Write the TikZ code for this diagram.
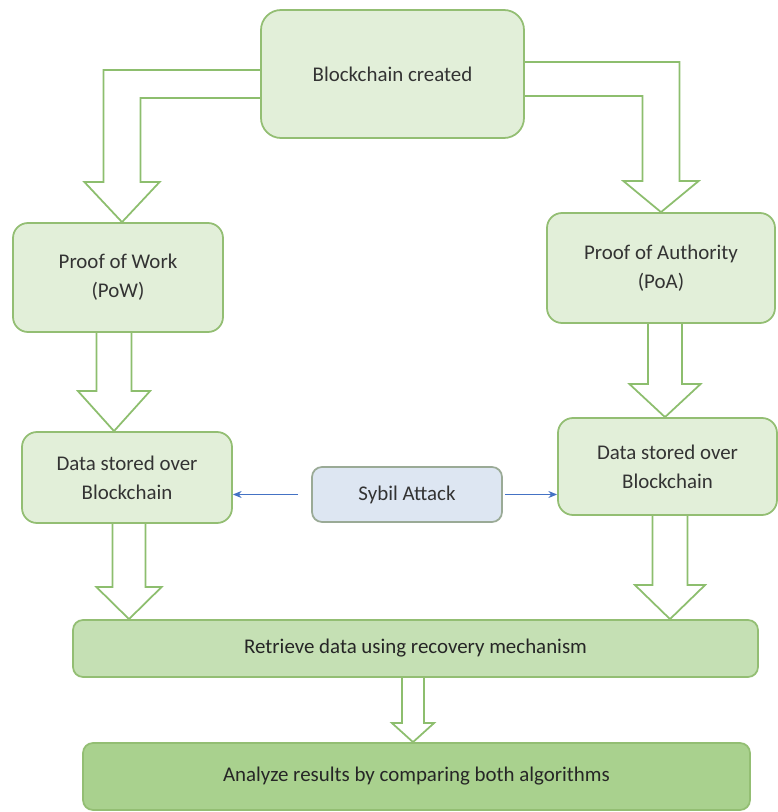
\documentclass[tikz,border=0pt]{standalone}
\usepackage{fontspec}
\setmainfont{Carlito}
\usepackage{tikz}
\usetikzlibrary{arrows.meta, positioning, calc, backgrounds}
\usepackage{xcolor}
\definecolor{boxfill}{HTML}{E2EFD9}
\definecolor{boxline}{HTML}{93BE73}
\definecolor{retfill}{HTML}{C5E0B4}
\definecolor{anfill}{HTML}{A9D18E}
\definecolor{sybfill}{HTML}{DDE6F2}
\definecolor{sybline}{HTML}{9AAA96}
\definecolor{arrgreen}{HTML}{8DBE6E}
\definecolor{atkblue}{HTML}{4472C4}
\definecolor{txtgray}{HTML}{333333}

\begin{document}
\begin{tikzpicture}[
  box/.style={draw=boxline, fill=boxfill, rounded corners=0.3cm, line width=1pt,
    align=center, inner sep=0pt, text=txtgray,
    font=\fontsize{11.9}{16.5}\selectfont},
  fat/.style args={#1/#2/#3}{draw=arrgreen, fill=white, line width=1pt,
    to path={let \p1=(\tikztostart), \p2=(\tikztotarget) in
      (\x1-#1,\y1) -- (\x1-#1,\y2+#3) -- (\x1-#2,\y2+#3) -- (\x1,\y2)
      -- (\x1+#2,\y2+#3) -- (\x1+#1,\y2+#3) -- (\x1+#1,\y1)}},
  bent/.style={draw=arrgreen, fill=white, line width=1pt},
  atk/.style={-{Stealth[length=5pt, width=4pt]}, draw=atkblue, line width=0.6pt}
]
  \useasboundingbox (0,0) rectangle (15.56,16.24);

  % Start
  \node[box, rounded corners=0.4cm, minimum width=5.26cm, minimum height=2.56cm]
    (bc) at (7.85, 14.76) {Blockchain created};

  % Consensus algorithms
  \node[box, minimum width=4.20cm, minimum height=2.18cm]
    (pow) at (2.36, 10.69) {Proof of Work\\(PoW)};
  \node[box, minimum width=4.56cm, minimum height=2.20cm]
    (poa) at (13.22, 10.88) {Proof of Authority\\(PoA)};

  % Storage
  \node[box, minimum width=4.20cm, minimum height=1.82cm]
    (dl) at (2.54, 6.69) {Data stored over\\Blockchain};
  \node[box, minimum width=4.38cm, minimum height=1.94cm]
    (dr) at (13.35, 6.91) {Data stored over\\Blockchain};

  % Attack
  \node[box, draw=sybline, fill=sybfill, rounded corners=0.2cm,
    minimum width=3.80cm, minimum height=1.10cm]
    (syb) at (8.14, 6.35) {Sybil Attack};

  % Recovery and analysis
  \node[box, fill=retfill, rounded corners=0.2cm, text=black!85,
    minimum width=13.70cm, minimum height=1.14cm]
    (ret) at (8.31, 3.27) {Retrieve data using recovery mechanism};
  \node[box, fill=anfill, rounded corners=0.2cm, text=black!85,
    minimum width=13.34cm, minimum height=1.34cm]
    (an) at (8.33, 0.71) {Analyze results by comparing both algorithms};

  % Block arrows
  \begin{scope}[on background layer]
    \draw[bent] let \p1=(bc.west), \p2=([xshift=0.08cm]pow.north) in
      (\x1,\y1+0.08cm) -- (\x2-0.37cm,\y1+0.08cm) -- (\x2-0.37cm,\y2+0.8cm)
      -- (\x2-0.75cm,\y2+0.8cm) -- (\p2) -- (\x2+0.75cm,\y2+0.8cm)
      -- (\x2+0.37cm,\y2+0.8cm) -- (\x2+0.37cm,\y1-0.48cm) -- (\x1,\y1-0.48cm);
    \draw[bent] let \p1=(bc.east), \p2=(poa.north) in
      (\x1,\y1+0.24cm) -- (\x2+0.37cm,\y1+0.24cm) -- (\x2+0.37cm,\y2+0.62cm)
      -- (\x2+0.75cm,\y2+0.62cm) -- (\p2) -- (\x2-0.75cm,\y2+0.62cm)
      -- (\x2-0.37cm,\y2+0.62cm) -- (\x2-0.37cm,\y1-0.44cm) -- (\x1,\y1-0.44cm);

    \draw[fat=0.35cm/0.72cm/0.8cm] ([xshift=-0.08cm]pow.south) to (dl.north);
    \draw[fat=0.34cm/0.71cm/0.66cm] ([xshift=0.08cm]poa.south) to (dr.north);
    \draw[fat=0.33cm/0.65cm/0.64cm] ([xshift=0.04cm]dl.south) to (ret.north);
    \draw[fat=0.35cm/0.70cm/0.68cm] ([xshift=0.05cm]dr.south) to (ret.north);
    \draw[fat=0.22cm/0.42cm/0.38cm] ([xshift=-0.05cm]ret.south) to (an.north);
  \end{scope}

  % Sybil attack on both chains
  \draw[atk, shorten <=0.26cm] (syb.west) -- (syb.west -| dl.east);
  \draw[atk, shorten <=0.04cm] (syb.east) -- (syb.east -| dr.west);
\end{tikzpicture}
\end{document}
